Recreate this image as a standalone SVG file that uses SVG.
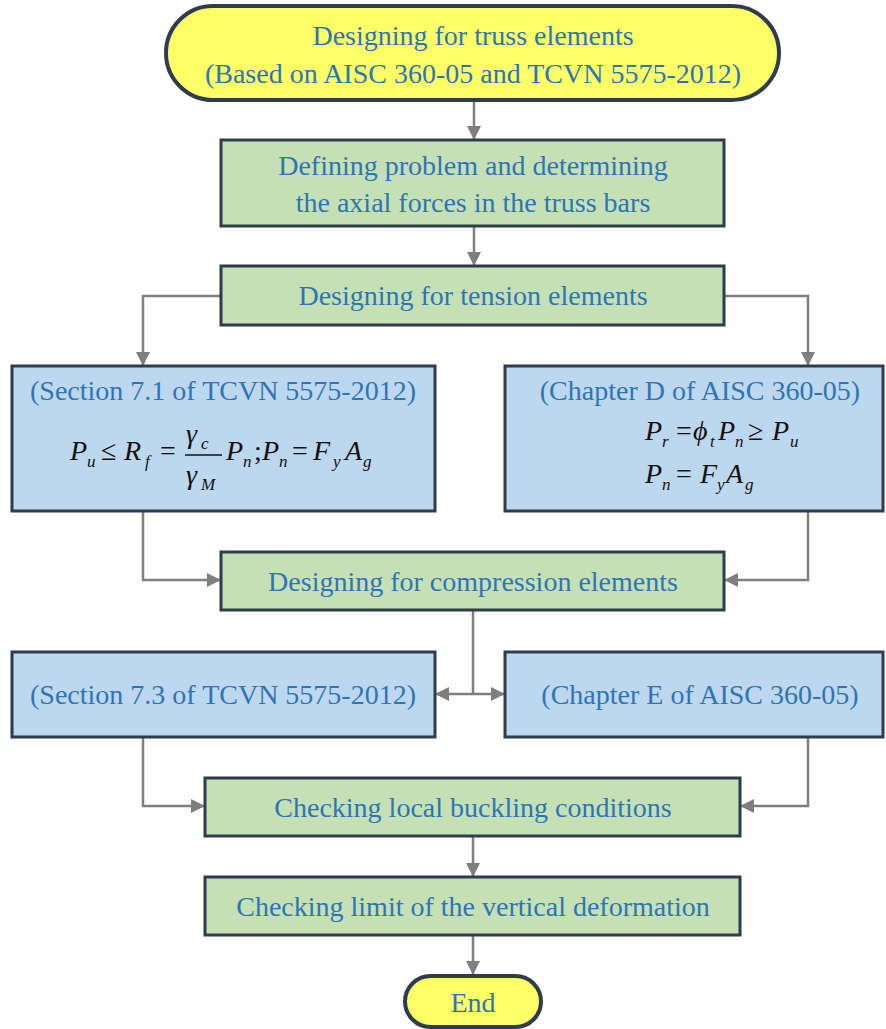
<svg xmlns="http://www.w3.org/2000/svg" width="886" height="1029" viewBox="0 0 886 1029">
<style>
.term{fill:#FFFF66;stroke:#2F3B4E;stroke-width:4}
.proc{fill:#C5E0B4;stroke:#2F3B4E;stroke-width:3}
.sec{fill:#BDD7EE;stroke:#2F3B4E;stroke-width:3}
.t{font-family:"Liberation Serif",serif;font-size:28px;fill:#2E75B6;text-anchor:middle}
.m{font-family:"Liberation Serif",serif;font-style:italic;font-size:28px;fill:#111}
.o{font-family:"Liberation Serif",serif;font-size:28px;fill:#111}
.ms{font-family:"Liberation Serif",serif;font-style:italic;font-size:17px;fill:#111}
.c{fill:none;stroke:#7F7F7F;stroke-width:2.5}
</style>
<defs>
<marker id="ah" viewBox="0 0 10 10" refX="10" refY="5" markerWidth="5.6" markerHeight="5.6" orient="auto-start-reverse" markerUnits="strokeWidth">
<path d="M0,0 L10,5 L0,10 z" fill="#7F7F7F"/>
</marker>
</defs>
<g id="connectors">
<path class="c" d="M474,100 V140" marker-end="url(#ah)"/>
<path class="c" d="M474,226 V266" marker-end="url(#ah)"/>
<path class="c" d="M221,296 H143 V366" marker-end="url(#ah)"/>
<path class="c" d="M724,296 H808 V366" marker-end="url(#ah)"/>
<path class="c" d="M143,511 V580 H221" marker-end="url(#ah)"/>
<path class="c" d="M808,511 V580 H724" marker-end="url(#ah)"/>
<path class="c" d="M473,610 V694"/>
<path class="c" d="M435,694 H505" marker-start="url(#ah)" marker-end="url(#ah)"/>
<path class="c" d="M143,737 V806 H205" marker-end="url(#ah)"/>
<path class="c" d="M808,737 V806 H740" marker-end="url(#ah)"/>
<path class="c" d="M473,836 V877" marker-end="url(#ah)"/>
<path class="c" d="M473,935 V975" marker-end="url(#ah)"/>
</g>
<g id="start">
<rect class="term" x="166" y="6" width="613" height="94" rx="47"/>
<text class="t" x="473" y="45">Designing for truss elements</text>
<text class="t" x="473" y="83">(Based on AISC 360-05 and TCVN 5575-2012)</text>
</g>
<g id="define">
<rect class="proc" x="221" y="140" width="503" height="86"/>
<text class="t" x="473" y="175">Defining problem and determining</text>
<text class="t" x="473" y="212">the axial forces in the truss bars</text>
</g>
<g id="tension">
<rect class="proc" x="221" y="266" width="503" height="59"/>
<text class="t" x="473" y="305">Designing for tension elements</text>
</g>
<g id="tcvn71">
<rect class="sec" x="12" y="366" width="423" height="145"/>
<text class="t" x="223" y="400">(Section 7.1 of TCVN 5575-2012)</text>
<text class="m" x="70" y="460">P</text><text class="ms" x="87" y="467">u</text>
<text class="o" x="101" y="460">≤</text>
<text class="m" x="124" y="460">R</text><text class="ms" x="145" y="467">f</text>
<text class="o" x="160" y="460">=</text>
<text class="m" x="186" y="443">γ</text><text class="ms" x="201" y="449">c</text>
<line x1="185" y1="455" x2="222" y2="455" stroke="#111" stroke-width="1.3"/>
<text class="m" x="186" y="484">γ</text><text class="ms" x="201" y="490">M</text>
<text class="m" x="226" y="460">P</text><text class="ms" x="243" y="467">n</text>
<text class="o" x="254" y="460">;</text>
<text class="m" x="262" y="460">P</text><text class="ms" x="279" y="467">n</text>
<text class="o" x="292" y="460">=</text>
<text class="m" x="313" y="460">F</text><text class="ms" x="333" y="467">y</text>
<text class="m" x="345" y="460">A</text><text class="ms" x="363" y="467">g</text>
</g>
<g id="aiscD">
<rect class="sec" x="505" y="366" width="378" height="145"/>
<text class="t" x="700" y="400">(Chapter D of AISC 360-05)</text>
<text class="m" x="645" y="440">P</text><text class="ms" x="662" y="447">r</text>
<text class="o" x="676" y="440">=</text>
<text class="m" x="693" y="440">ϕ</text><text class="ms" x="710" y="447">t</text>
<text class="m" x="718" y="440">P</text><text class="ms" x="735" y="447">n</text>
<text class="o" x="748" y="440">≥</text>
<text class="m" x="772" y="440">P</text><text class="ms" x="790" y="447">u</text>
<text class="m" x="645" y="483">P</text><text class="ms" x="662" y="490">n</text>
<text class="o" x="676" y="483">=</text>
<text class="m" x="700" y="483">F</text><text class="ms" x="717" y="490">y</text>
<text class="m" x="726" y="483">A</text><text class="ms" x="745" y="490">g</text>
</g>
<g id="compression">
<rect class="proc" x="221" y="552" width="503" height="58"/>
<text class="t" x="473" y="591">Designing for compression elements</text>
</g>
<g id="tcvn73">
<rect class="sec" x="12" y="652" width="423" height="85"/>
<text class="t" x="223" y="704">(Section 7.3 of TCVN 5575-2012)</text>
</g>
<g id="aiscE">
<rect class="sec" x="505" y="652" width="378" height="85"/>
<text class="t" x="700" y="704">(Chapter E of AISC 360-05)</text>
</g>
<g id="buckling">
<rect class="proc" x="205" y="778" width="535" height="58"/>
<text class="t" x="473" y="817">Checking local buckling conditions</text>
</g>
<g id="deformation">
<rect class="proc" x="205" y="877" width="535" height="58"/>
<text class="t" x="473" y="916">Checking limit of the vertical deformation</text>
</g>
<g id="end">
<rect class="term" x="405" y="976" width="136" height="51" rx="25.5"/>
<text class="t" x="473" y="1012">End</text>
</g>
</svg>
